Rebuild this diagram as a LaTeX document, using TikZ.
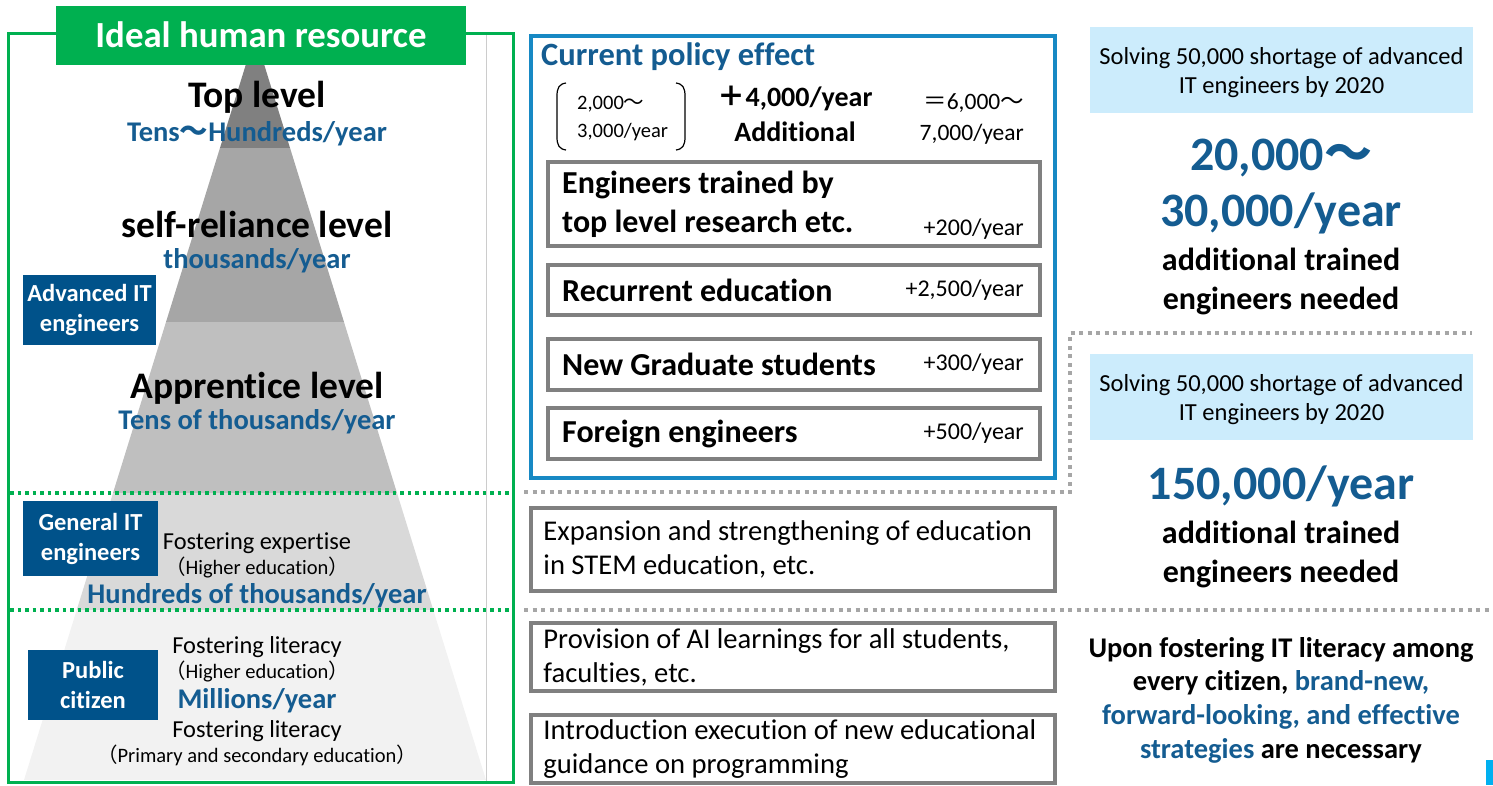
\documentclass[tikz,border=0pt]{standalone}
\usepackage{fontspec}
\setmainfont{Carlito}[Ligatures={NoCommon}]
\newfontfamily\cjk{Noto Sans CJK JP}
\usepackage{xcolor}
\usepackage{tikz}
\usetikzlibrary{positioning}

\definecolor{itgreen}{RGB}{0,176,80}
\definecolor{itblue}{RGB}{0,82,138}
\definecolor{txtblue}{RGB}{20,92,145}
\definecolor{framecyan}{RGB}{23,137,196}
\definecolor{paleblue}{RGB}{204,236,252}
\definecolor{boxgrey}{RGB}{128,128,128}
\definecolor{dotgrey}{RGB}{166,166,166}
\definecolor{barcyan}{RGB}{0,176,240}
\definecolor{tierA}{RGB}{128,128,128}
\definecolor{tierB}{RGB}{166,166,166}
\definecolor{tierC}{RGB}{191,191,191}
\definecolor{tierD}{RGB}{217,217,217}
\definecolor{tierE}{RGB}{242,242,242}

\newcommand{\fsz}[2]{\fontsize{#1}{#2}\selectfont}

\begin{document}
\begin{tikzpicture}[
    x=1pt, y=-1pt,
    lvl/.style={font=\bfseries\fsz{37.5}{40}, anchor=base, inner sep=0pt},
    rate/.style={font=\bfseries\fsz{28.5}{32}, text=txtblue, anchor=base, inner sep=0pt},
    note/.style={font=\fsz{24.4}{28}, anchor=base, inner sep=0pt},
    paren/.style={font=\fsz{20.5}{22}, anchor=base, inner sep=0pt},
    tag/.style={rectangle, fill=itblue, text=white, font=\bfseries\fsz{24.5}{30}, align=center, inner sep=0pt},
    effbox/.style={rectangle, draw=boxgrey, line width=4pt, fill=white, minimum width=492pt, inner sep=0pt},
    efftxt/.style={font=\bfseries\fsz{32}{39}, align=left, inner sep=0pt},
    effrate/.style={font=\fsz{24}{28}, inner sep=0pt},
    edubox/.style={rectangle, draw=boxgrey, line width=3.5pt, minimum width=524pt, minimum height=68pt, inner sep=0pt},
    edutxt/.style={font=\fsz{28.6}{34}, align=left, inner sep=0pt},
    goalbox/.style={rectangle, fill=paleblue, minimum width=383pt, minimum height=86pt, inner sep=0pt},
    goaltxt/.style={font=\fsz{24.5}{29}, align=center, inner sep=0pt},
    big/.style={font=\bfseries\fsz{48}{56}, text=txtblue, align=center, inner sep=0pt},
    need/.style={font=\bfseries\fsz{32}{39}, align=center, inner sep=0pt},
    gsep/.style={draw=itgreen, line width=3.5pt, dash pattern=on 3.5pt off 4pt},
    sep/.style={draw=dotgrey, line width=4pt, dash pattern=on 4pt off 4.5pt}
]
\useasboundingbox (0,0) rectangle (1493,785);

% Pyramid
\begin{scope}
\clip (255,35) -- (486,780) -- (24,780) -- cycle;
\fill[tierA] (0,0) rectangle (520,148);
\fill[tierB] (0,148) rectangle (520,322);
\fill[tierC] (0,322) rectangle (520,493);
\fill[tierD] (0,493) rectangle (520,610);
\fill[tierE] (0,610) rectangle (520,780);
\end{scope}

% Frame and title
\draw[black!20, line width=1pt] (486,34) -- (486,781);
\draw[itgreen, line width=3pt] (8,33) rectangle (513,782);
\draw[gsep] (10,493) -- (511,493);
\draw[gsep] (10,610) -- (511,610);
\node[rectangle, fill=itgreen, minimum width=410pt, minimum height=59pt, inner sep=0pt,
      text=white, font=\bfseries\fsz{36.8}{40}] (title) at (261,35) {Ideal human resource};

% Levels
\node[lvl]   (top)    at (257,107.5) {Top level};
\node[rate]  (topR)   at (257,141) {Tens{\cjk ～}Hundreds/year};
\node[lvl]   (self)   at (257,237) {self-reliance level};
\node[rate]  (selfR)  at (257,268) {thousands/year};
\node[lvl]   (appr)   at (257,398) {Apprentice level};
\node[rate]  (apprR)  at (257,429) {Tens of thousands/year};
\node[note]  (exp)    at (257,549) {Fostering expertise};
\node[paren] (expP)   at (257,574) {{\cjk （}Higher education{\cjk ）}};
\node[rate]  (expR)   at (257,603) {Hundreds of thousands/year};
\node[note]  (litA)   at (257,653) {Fostering literacy};
\node[paren] (litAP)  at (257,678) {{\cjk （}Higher education{\cjk ）}};
\node[rate]  (litR)   at (257,708) {Millions/year};
\node[note]  (litB)   at (257,737) {Fostering literacy};
\node[paren] (litBP)  at (257,762) {{\cjk （}Primary and secondary education{\cjk ）}};

% Target groups
\node[tag, minimum width=133pt, minimum height=70pt] (adv) at (89.5,310) {Advanced IT\\engineers};
\node[tag, minimum width=135pt, minimum height=75pt] (gen) at (90.5,538.5) {General IT\\engineers};
\node[tag, minimum width=130pt, minimum height=70pt] (pub) at (93,685) {Public\\citizen};

% Current policy effect
\node[rectangle, draw=framecyan, line width=3.5pt, minimum width=524pt, minimum height=442pt, inner sep=0pt] (policy) at (793,257) {};
\node[font=\bfseries\fsz{32.5}{36}, text=txtblue, anchor=base west, inner sep=0pt] (cpe) at (541,65) {Current policy effect};
\node[font=\fsz{20.5}{28}, align=left, anchor=west, inner sep=0pt] (now) at (577,118) {2,000{\cjk ～}\\3,000/year};
\draw[line width=1.2pt] (566,83) .. controls (559,84) and (557,88) .. (557,96) -- (557,137) .. controls (557,145) and (559,149) .. (566,150);
\draw[line width=1.2pt] (676,83) .. controls (683,84) and (685,88) .. (685,96) -- (685,137) .. controls (685,145) and (683,149) .. (676,150);
\node[font=\bfseries\fsz{28}{35}, align=center, inner sep=0pt] (plus) at (795,114) {{\cjk ＋}4,000/year\\Additional};
\node[font=\fsz{23.5}{31}, align=right, anchor=east, inner sep=0pt] (total) at (1024,119) {{\cjk ＝}6,000{\cjk ～}\\7,000/year};

\node[effbox, minimum height=84pt] (res) at (794,204) {};
\node[efftxt, right=16pt of res.west] (resT) {Engineers trained by\\top level research etc.};
\node[effrate, anchor=base east] (resR) at (1024,235) {+200/year};

\node[effbox, minimum height=50pt] (rec) at (794,290) {};
\node[efftxt, right=16pt of rec.west] (recT) {Recurrent education};
\node[effrate, left=18pt of rec.east] (recR) {+2,500/year};

\node[effbox, minimum height=51pt] (grad) at (794,364.5) {};
\node[efftxt, right=16pt of grad.west] (gradT) {New Graduate students};
\node[effrate, left=18pt of grad.east] (gradR) {+300/year};

\node[effbox, minimum height=51pt] (frn) at (794,433.5) {};
\node[efftxt, right=16pt of frn.west] (frnT) {Foreign engineers};
\node[effrate, left=18pt of frn.east] (frnR) {+500/year};

% Separators
\draw[sep] (524,492) -- (1070,492) -- (1070,333) -- (1472,333);
\draw[sep] (524,610) -- (1490,610);

% Education measures
\node[edubox, minimum height=83pt] (stem) at (793,549.5) {};
\node[edutxt, right=14pt of stem.west] (stemT) {Expansion and strengthening of education\\in STEM education, etc.};
\node[edubox] (ai) at (793,657) {};
\node[edutxt, right=14pt of ai.west] (aiT) {Provision of AI learnings for all students,\\faculties, etc.};
\node[edubox] (prog) at (793,749) {};
\node[edutxt, right=14pt of prog.west] (progT) {Introduction execution of new educational\\guidance on programming};

% Needs
\node[goalbox] (goalA) at (1281.5,70) {};
\node[goaltxt] (goalAT) at (1281.5,73) {Solving 50,000 shortage of advanced\\IT engineers by 2020};
\node[big]  (numA)  at (1281,187) {20,000{\cjk ～}\\30,000/year};
\node[need] (needA) at (1281,281.5) {additional trained\\engineers needed};
\node[goalbox] (goalB) at (1281.5,397) {};
\node[goaltxt] (goalBT) at (1281.5,400) {Solving 50,000 shortage of advanced\\IT engineers by 2020};
\node[big]  (numB)  at (1281,486) {150,000/year};
\node[need] (needB) at (1281,554.5) {additional trained\\engineers needed};
\node[font=\bfseries\fsz{28.5}{33.7}, align=center, inner sep=0pt] (strat) at (1281,700)
  {Upon fostering IT literacy among\\every citizen, \textcolor{txtblue}{brand-new,}\\\textcolor{txtblue}{forward-looking, and effective}\\\textcolor{txtblue}{strategies} are necessary};

\fill[barcyan] (1486,760) rectangle (1493,785);
\end{tikzpicture}
\end{document}
